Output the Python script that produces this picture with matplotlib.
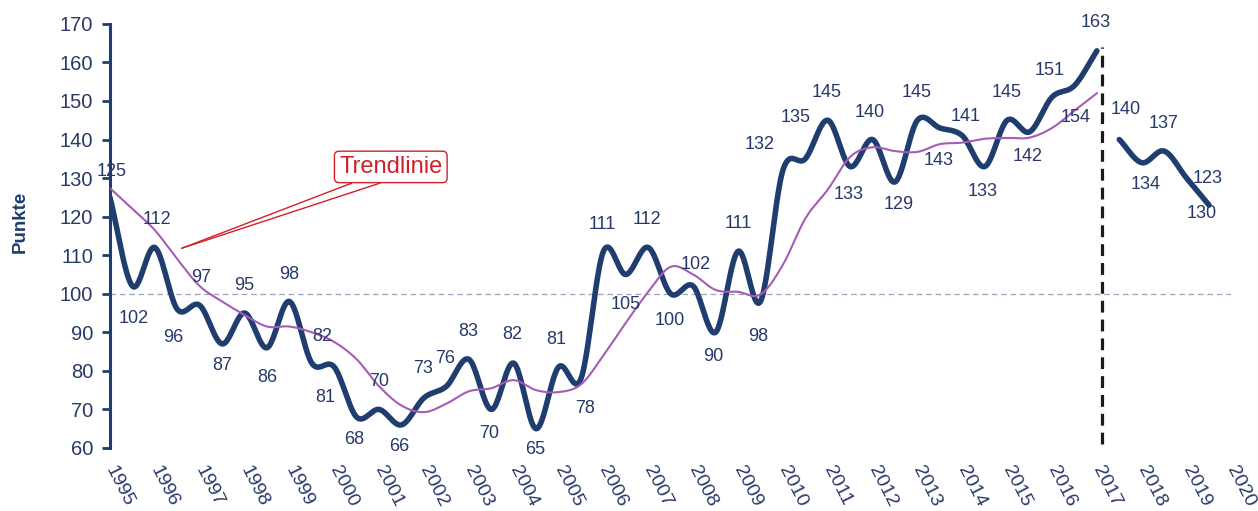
import numpy as np
import matplotlib.pyplot as plt

plt.rcParams['font.family'] = ['Liberation Sans', 'DejaVu Sans']

# Halbjahreswerte 1995 - 2017
jahre = np.arange(1995.0, 2017.01, 0.5)
punkte = [125, 102, 112, 96, 97, 87, 95, 86, 98, 82, 81, 68, 70, 66, 73, 76, 83, 70, 82, 65,
          81, 78, 111, 105, 112, 100, 102, 90, 111, 98, 132, 135, 145, 133, 140, 129, 145, 143,
          141, 133, 145, 142, 151, 154, 163]
trend = [127.4, 122, 116.5, 109, 102, 98, 94.5, 91.5, 91.5, 90, 87.5, 83, 76, 71, 69.3, 71.5,
         74.7, 75.5, 77.6, 75, 74.5, 76.5, 84, 92.5, 100.5, 107, 105, 101, 100.5, 99.8, 107.5,
         119.5, 127, 135.5, 138, 137, 136.8, 138.8, 139.2, 140.2, 140.4, 140.5, 143, 147.5, 152]

# Prognose
prog_jahre = [2017.5, 2018.0, 2018.5, 2019.0, 2019.5]
prognose = [140, 134, 137, 130, 123]

ticks_x = list(range(1995, 2021))
ticks_y = list(range(60, 171, 10))

# Versatz der Datenbeschriftungen in Pixeln (x, y nach oben)
label_off = [(2, 26), (1, -32), (2, 28), (-4, -28), (1, 28), (0, -22), (0, 28), (0, -30), (0, 27),
             (10, 27), (-9, -30), (-2, -22), (0, 28), (-2, -22), (-1, 29), (-1, 28), (-1, 28),
             (-2, -24), (-1, 29), (-1, -21), (-2, 28), (4, -30), (-1, 27), (0, -30), (-1, 28),
             (-1, -27), (3, 22), (-2, -24), (0, 28), (-2, -35), (-23, 26), (-10, 41), (-1, 28),
             (-2, -28), (-3, 27), (4, -23), (-1, 28), (-1, -33), (3, 19), (-2, -25), (-1, 28),
             (-2, -25), (-2, 27), (1, -32), (-1, 28)]
prog_off = [(6, 30), (4, -22), (-1, 28), (15, -35), (-1, 27)]

navy = '#1F3D6E'
txt = '#27396A'
lila = '#A35DB5'
rot = '#D0202A'


def glatt(x, y, n=24):
    # Catmull-Rom, aehnlich wie geglaettete Linie in Excel
    x = np.asarray(x, float)
    y = np.asarray(y, float)
    px = np.concatenate([[2 * x[0] - x[1]], x, [2 * x[-1] - x[-2]]])
    py = np.concatenate([[2 * y[0] - y[1]], y, [2 * y[-1] - y[-2]]])
    t = np.linspace(0, 1, n, endpoint=False)
    ox, oy = [], []
    for i in range(1, len(px) - 2):
        for p, o in ((px, ox), (py, oy)):
            p0, p1, p2, p3 = p[i - 1], p[i], p[i + 1], p[i + 2]
            o.extend(0.5 * (2 * p1 + (-p0 + p2) * t + (2 * p0 - 5 * p1 + 4 * p2 - p3) * t ** 2
                            + (-p0 + 3 * p1 - 3 * p2 + p3) * t ** 3))
    ox.append(x[-1])
    oy.append(y[-1])
    return np.array(ox), np.array(oy)


fig = plt.figure(figsize=(12.58, 5.11), dpi=100)
ax = fig.add_axes([0.0874, 0.1233, 0.8915, 0.83])

ax.axhline(100, color='#9EA0BA', lw=0.9, ls=(0, (4.5, 3)), zorder=1)
ax.vlines(2017.12, 61, 164, color='#1a1a1a', lw=2.3, linestyles=(0, (3.7, 2.2)), zorder=2)

gx, gy = glatt(jahre, punkte)
ax.plot(gx, gy, color=navy, lw=4, solid_capstyle='round', zorder=3)
px, py = glatt(prog_jahre, prognose)
ax.plot(px, py, color=navy, lw=4, solid_capstyle='round', zorder=3)
tx, ty = glatt(jahre, trend)
ax.plot(tx, ty, color=lila, lw=1.5, zorder=4)

for x, v, o in zip(jahre, punkte, label_off):
    ax.annotate(str(v), (x, v), xytext=o, textcoords='offset pixels', ha='center', va='center',
                fontsize=13, color=txt, zorder=5, annotation_clip=False)
for x, v, o in zip(prog_jahre, prognose, prog_off):
    ax.annotate(str(v), (x, v), xytext=o, textcoords='offset pixels', ha='center', va='center',
                fontsize=13, color=txt, zorder=5, annotation_clip=False)

# Hinweis Trendlinie
for sx in (2000.39, 2001.02):
    ax.annotate('', xy=(1996.6, 111.8), xytext=(sx, 128.7),
                arrowprops=dict(arrowstyle='-', color=rot, lw=1, shrinkA=0, shrinkB=0))
ax.text(2001.26, 132.9, 'Trendlinie', fontsize=17, color=rot, ha='center', va='center', zorder=6,
        bbox=dict(boxstyle='round,pad=0.2', fc='white', ec=rot, lw=1))

ax.set_xlim(1995, 2020)
ax.set_ylim(60, 170)
ax.set_yticks(ticks_y)
ax.set_xticks(ticks_x)
ax.set_xticklabels([str(j) for j in ticks_x], rotation=-63, ha='left', va='center',
                   rotation_mode='anchor')
for s in ('top', 'right', 'bottom'):
    ax.spines[s].set_visible(False)
ax.spines['left'].set_color(navy)
ax.spines['left'].set_linewidth(2.2)
ax.tick_params(axis='y', direction='out', length=6, width=2, color=navy, labelsize=14.5,
               labelcolor=txt, pad=6)
ax.tick_params(axis='x', length=0, labelsize=14, labelcolor=txt, pad=14)

ax.set_ylabel('Punkte', fontsize=13.5, fontweight='bold', color=navy)
ax.yaxis.set_label_coords(-0.072, 0.533)

fig.savefig('out.png', dpi=100)
